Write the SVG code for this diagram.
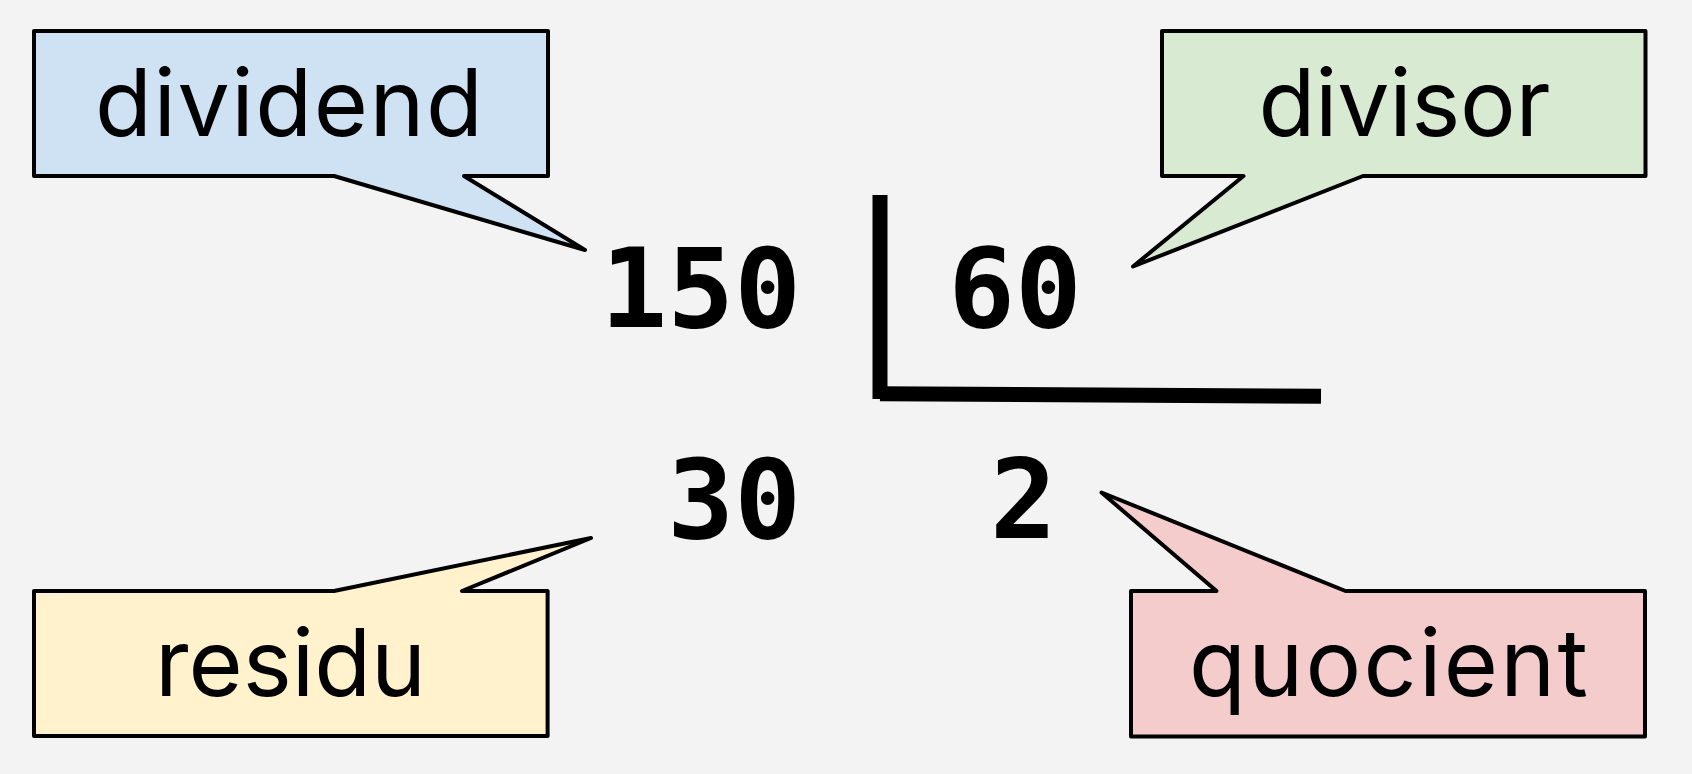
<svg xmlns="http://www.w3.org/2000/svg" width="1692" height="774" viewBox="0 0 1692 774">
  <style>
    .callout { stroke: #000; stroke-width: 4; stroke-linejoin: round; }
    .label { font-family: Inter, "Noto Sans", "Liberation Sans", sans-serif; font-size: 93px; fill: #000; text-anchor: middle; }
    .num { font-family: "DejaVu Sans Mono", "Liberation Mono", monospace; font-weight: bold; font-size: 111px; fill: #000; font-variant-numeric: slashed-zero; }
    .bar { stroke: #000; stroke-width: 15; fill: none; stroke-linecap: butt; }
  </style>
  <rect width="1692" height="774" fill="#f3f3f3"/>

  <!-- long-division bracket -->
  <g id="connectors">
    <line class="bar" x1="880" y1="195" x2="880" y2="399"/>
    <line class="bar" x1="880" y1="393.7" x2="1321" y2="396.3"/>
  </g>

  <!-- numbers -->
  <g id="n-dividend"><text class="num" x="801" y="327" text-anchor="end">150</text></g>
  <g id="n-divisor"><text class="num" x="1015" y="327" text-anchor="middle">60</text></g>
  <g id="n-residu"><text class="num" x="801" y="538" text-anchor="end">30</text></g>
  <g id="n-quocient"><text class="num" x="1023.5" y="538" text-anchor="middle">2</text></g>

  <!-- callouts -->
  <g id="dividend">
    <path class="callout" fill="#cfe2f3" d="M34,31 H548 V176 H464 L585,250 L334,176 H34 Z"/>
    <text class="label" x="289" y="136" textLength="388" lengthAdjust="spacing">dividend</text>
  </g>
  <g id="divisor">
    <path class="callout" fill="#d9ead3" d="M1162,31 H1645.5 V176 H1363 L1133,266.5 L1243.5,176 H1162 Z"/>
    <text class="label" x="1404.5" y="136" textLength="292" lengthAdjust="spacing">divisor</text>
  </g>
  <g id="residu">
    <path class="callout" fill="#fff2cc" d="M34,591 H334 L591,538 L462,591 H547.6 V736 H34 Z"/>
    <text class="label" x="290.6" y="696" textLength="271" lengthAdjust="spacing">residu</text>
  </g>
  <g id="quocient">
    <path class="callout" fill="#f4cccc" d="M1131,591 H1216.5 L1101.5,492.5 L1345.5,591 H1645 V736.5 H1131 Z"/>
    <text class="label" x="1388.5" y="696" textLength="399" lengthAdjust="spacing">quocient</text>
  </g>
</svg>
